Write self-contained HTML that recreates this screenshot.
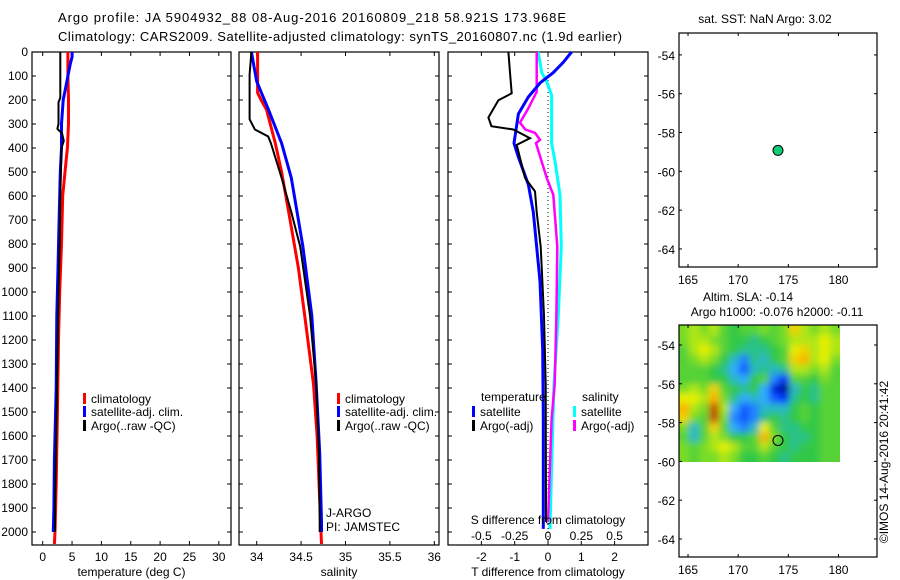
<!DOCTYPE html>
<html><head><meta charset="utf-8"><style>
html,body{margin:0;padding:0;background:#fff;}
svg{display:block;font-family:"Liberation Sans",sans-serif;}
text{font-size:12px;fill:#000;}
</style></head><body>
<svg id="fig" width="900" height="580" viewBox="0 0 900 580" xmlns="http://www.w3.org/2000/svg">
<defs>
<filter id="blur" x="0" y="0" width="1" height="1"><feGaussianBlur stdDeviation="3.5" edgeMode="duplicate"/></filter>
<clipPath id="slaClip"><rect x="679" y="325" width="161" height="137"/></clipPath>
</defs>
<text x="58" y="22" style="font-size:13px" textLength="508">Argo profile: JA 5904932_88 08-Aug-2016 20160809_218 58.921S 173.968E</text>
<text x="58" y="41" style="font-size:13px" textLength="564">Climatology: CARS2009. Satellite-adjusted climatology: synTS_20160807.nc (1.9d earlier)</text>
<g id="layer"></g>
</svg>
<script>
// ---------- profile data ----------
const tClimDepth = [0,100,200,300,400,500,600,800,1000,1200,1500,1800,2000,2050];
const tClimVal   = [4.3,4.3,4.4,4.4,4.2,3.8,3.4,3.2,2.9,2.7,2.5,2.3,2.1,2.0];
const tSatDepth  = [0,20,50,100,150,200,300,400,500,600,700,900,1100,1400,1700,1900,2000];
const tSatVal    = [5.0,5.0,4.7,4.3,3.9,3.5,3.2,3.2,3.0,2.9,2.8,2.6,2.4,2.3,2.0,1.9,1.8];
const tArgoDepth = [0,190,210,300,320,340,370,400,500,600,800,1000,1300,1600,1900,2000];
const tArgoVal   = [3.0,3.0,2.7,2.7,2.5,3.3,3.6,3.2,3.1,3.0,2.9,2.7,2.5,2.3,2.1,2.1];

const sClimDepth = [0,170,200,240,380,500,667,900,1098,1384,1600,1958,2050];
const sClimVal   = [34.01,34.01,34.05,34.11,34.21,34.28,34.36,34.47,34.54,34.64,34.68,34.72,34.73];
const sSatDepth  = [0,123,237,380,524,811,1098,1384,1671,1958,2000];
const sSatVal    = [33.94,34.0,34.13,34.28,34.39,34.52,34.62,34.67,34.71,34.73,34.73];
const sArgoDepth = [0,94,280,323,352,380,524,667,811,1098,1384,1671,1958,2000];
const sArgoVal   = [33.94,33.92,33.92,33.98,34.13,34.16,34.28,34.39,34.49,34.60,34.67,34.70,34.71,34.71];

const dTSatDepth  = [0,43,86,129,187,258,380,438,553,667,955,1241,1528,1987];
const dTSatVal    = [0.71,0.46,0.16,-0.24,-0.59,-0.89,-1.02,-0.89,-0.59,-0.44,-0.24,-0.16,-0.14,-0.14];
const dTArgoDepth = [0,86,172,201,273,309,323,359,387,524,581,667,811,1098,1384,1958];
const dTArgoVal   = [-1.19,-1.14,-1.09,-1.49,-1.79,-1.70,-1.04,-0.54,-0.94,-0.69,-0.39,-0.34,-0.22,-0.12,-0.07,-0.06];
const dSSatDepth  = [0,86,123,180,380,452,595,811,1098,1384,1671,1987];
const dSSatVal    = [-0.073,-0.047,-0.01,0.027,0.027,0.052,0.09,0.10,0.077,0.045,0.03,0.015];
const dSArgoDepth = [0,166,237,294,323,337,366,380,524,595,811,1098,1384,1528,1958];
const dSArgoVal   = [-0.085,-0.085,-0.15,-0.21,-0.17,-0.097,-0.06,-0.09,-0.01,0.04,0.07,0.063,0.05,0.027,0.0];

const depthTicks = [0,100,200,300,400,500,600,700,800,900,1000,1100,1200,1300,1400,1500,1600,1700,1800,1900,2000];
const tempTicks = [0,5,10,15,20,25,30];
const salTicks = [34,34.5,35,35.5,36];
const dTTicks = [-2,-1,0,1,2];
const dSTicks = [-0.5,-0.25,0,0.25,0.5];
const dSTickLabels = ['-0.5','-0.25','0','0.25','0.5'];

// ---------- map data ----------
const latTicks = [-54,-56,-58,-60,-62,-64];
const lonTicks = [165,170,175,180];
const argoLon = 173.968, argoLat = -58.921;
const slaLon0 = 164.1, slaLat0 = -53.0, slaDLon = 1.0, slaDLat = 0.5;
const slaGrid = [
[2,3,2,3,1,0,1,1,2,1,2,5,3,2,3,2],
[2,3,3,2,1,0,0,-1,0,1,2,3,3,3,4,3],
[1,3,4,3,1,0,-1,-1,-1,0,1,4,5,3,4,3],
[1,2,3,2,0,-2,-4,-1,-2,0,1,5,6,3,4,2],
[1,1,1,0,-1,-3,-5,-2,-1,-2,-1,3,3,2,3,1],
[1,1,1,0,0,-2,-3,0,1,-4,-6,1,1,0,2,1],
[2,3,2,5,1,0,-1,0,-3,-7,-10,-2,0,-1,1,1],
[4,4,3,6,2,-1,-3,-2,-3,-5,-6,-1,0,-1,1,1],
[6,3,2,9,3,-3,-5,-4,-2,-2,-2,0,1,0,1,1],
[5,2,1,9,2,-4,-5,-4,-1,0,-1,0,1,0,1,1],
[2,-2,1,5,1,-3,-4,-2,4,1,-1,-1,0,0,1,1],
[1,-2,1,3,2,0,0,1,6,2,0,-1,-1,0,1,1],
[2,1,2,3,4,3,1,1,3,1,0,-1,0,0,1,1],
[2,1,2,2,3,2,0,0,1,0,-1,0,0,0,1,1]
];

const NS='http://www.w3.org/2000/svg';
const L=document.getElementById('layer');
function mk(tag,attrs,parent){const e=document.createElementNS(NS,tag);for(const k in attrs)e.setAttribute(k,attrs[k]);(parent||L).appendChild(e);return e;}
function txt(x,y,s,anchor,parent){const e=mk('text',{x:x,y:y,'text-anchor':anchor||'start'},parent);e.textContent=s;return e;}

// depth axis
const plotTop=52, pxPerM=0.24;
const yD=d=>plotTop+d*pxPerM;
const panelBottom=545;

function panel(name,x0,x1,xf,ticks,labels,xlabel,leftLabels){
  const g=mk('g',{});
  
  
  const r=mk('rect',{x:x0,y:plotTop,width:x1-x0,height:panelBottom-plotTop,fill:'none',stroke:'#000','stroke-width':1.2},g);
  
  
  depthTicks.forEach(d=>{
    mk('line',{x1:x0,x2:x0+4,y1:yD(d),y2:yD(d),stroke:'#000'},g);
    mk('line',{x1:x1,x2:x1-4,y1:yD(d),y2:yD(d),stroke:'#000'},g);
    if(leftLabels){const t=txt(x0-4,yD(d)+4,String(d),'end',g);
      
      }
  });
  ticks.forEach((v,i)=>{
    const x=xf(v);
    mk('line',{x1:x,x2:x,y1:panelBottom,y2:panelBottom-4,stroke:'#000'},g);
    mk('line',{x1:x,x2:x,y1:plotTop,y2:plotTop+4,stroke:'#000'},g);
    const t=txt(x,561,labels[i],'middle',g);
    
    
  });
  const xl=txt((x0+x1)/2,576,xlabel,'middle',g);
  
  
  return g;
}
function series(name,depths,vals,xf,color,w,parent){
  const pts=depths.map((d,i)=>xf(vals[i]).toFixed(1)+','+yD(d).toFixed(1)).join(' ');
  const p=mk('polyline',{points:pts,fill:'none',stroke:color,'stroke-width':w,'stroke-linejoin':'miter'},parent);
  
  
}
function legendEntry(x,y,color,label,parent){
  const g=mk('g',{},parent);
  
  
  mk('rect',{x:x,y:y-10,width:3,height:11,fill:color},g);
  txt(x+8,y,label,'start',g);
}

// panel 1 temperature
const xT=v=>42.7+v*5.87;
const p1=panel('temperature-panel',32,231,xT,tempTicks,tempTicks.map(String),'temperature (deg C)',true);
series('temp-climatology-line',tClimDepth,tClimVal,xT,'#ff0000',3,p1);
series('temp-satellite-line',tSatDepth,tSatVal,xT,'#0000ff',3,p1);
series('temp-argo-line',tArgoDepth,tArgoVal,xT,'#000',2,p1);
legendEntry(83,403,'#ff0000','climatology',p1);
legendEntry(83,416,'#0000ff','satellite-adj. clim.',p1);
legendEntry(83,430,'#000','Argo(..raw -QC)',p1);

// panel 2 salinity
const xS=v=>256.7+(v-34)*88.8;
const p2=panel('salinity-panel',239,439,xS,salTicks,salTicks.map(String),'salinity',false);
series('sal-climatology-line',sClimDepth,sClimVal,xS,'#ff0000',3,p2);
series('sal-satellite-line',sSatDepth,sSatVal,xS,'#0000ff',3,p2);
series('sal-argo-line',sArgoDepth,sArgoVal,xS,'#000',2,p2);
legendEntry(337,403,'#ff0000','climatology',p2);
legendEntry(337,416,'#0000ff','satellite-adj. clim.',p2);
legendEntry(337,430,'#000','Argo(..raw -QC)',p2);
const j1=txt(326,517,'J-ARGO','start',p2);


const j2=txt(326,531,'PI: JAMSTEC','start',p2);



// panel 3 differences
const xDT=v=>548+v*33.3;
const xDS=v=>548+v*133.3;
const p3=panel('difference-panel',448,648,xDT,dTTicks,dTTicks.map(String),'T difference from climatology',false);
mk('line',{x1:548,x2:548,y1:plotTop,y2:panelBottom,stroke:'#000','stroke-dasharray':'1,3'},p3);
series('dS-satellite-line',dSSatDepth,dSSatVal,xDS,'#00ffff',3,p3);
series('dS-argo-line',dSArgoDepth,dSArgoVal,xDS,'#ff00ff',2.5,p3);
series('dT-satellite-line',dTSatDepth,dTSatVal,xDT,'#0000ff',3,p3);
series('dT-argo-line',dTArgoDepth,dTArgoVal,xDT,'#000',2,p3);
txt(481,401,'temperature','start',p3);
txt(582,401,'salinity','start',p3);
legendEntry(472,416,'#0000ff','satellite',p3);
legendEntry(472,430,'#000','Argo(-adj)',p3);
legendEntry(573,416,'#00ffff','satellite',p3);
legendEntry(573,430,'#ff00ff','Argo(-adj)',p3);
const st=txt(548,524,'S difference from climatology','middle',p3);


dSTicks.forEach((v,i)=>{const t=txt(xDS(v),540,dSTickLabels[i],'middle',p3);
  
  });

// ---------- maps ----------
const mapX0=679,mapX1=877,lonL=164.1;
const xLon=lon=>mapX0+(lon-lonL)*10.03;
function mapPanel(name,yTop,yBot,latTop){
  const yLat=lat=>yTop+(latTop-lat)*19.4;
  const g=mk('g',{});
  
  
  return {g,yLat,draw(){
    const r=mk('rect',{x:mapX0,y:yTop,width:mapX1-mapX0,height:yBot-yTop,fill:'none',stroke:'#000','stroke-width':1.2},g);
    
    
    latTicks.forEach(l=>{const y=yLat(l);
      mk('line',{x1:mapX0,x2:mapX0+3,y1:y,y2:y,stroke:'#000'},g);
      mk('line',{x1:mapX1,x2:mapX1-3,y1:y,y2:y,stroke:'#000'},g);
      const t=txt(675,y+5,String(l),'end',g);
      
      });
    lonTicks.forEach(l=>{const x=xLon(l);
      mk('line',{x1:x,x2:x,y1:yTop,y2:yTop+3,stroke:'#000'},g);
      mk('line',{x1:x,x2:x,y1:yBot,y2:yBot-3,stroke:'#000'},g);
      const t=txt(x,yBot+17,String(l),'middle',g);
      
      });
  }};
}
// SST map
const m1=mapPanel('sst-map',33,267,-52.87);
m1.draw();
const dot=mk('circle',{cx:xLon(argoLon),cy:m1.yLat(argoLat),r:5,fill:'#11cc77',stroke:'#000','stroke-width':1},m1.g);


const t1=txt(765,23,'sat. SST: NaN Argo: 3.02','middle',m1.g);



// SLA map
const m2=mapPanel('sla-map',325,557,-52.97);
const stops=[[-10,[0,0,140]],[-6,[0,50,255]],[-3,[50,170,255]],[-1.5,[40,190,170]],[0,[50,200,70]],[2,[120,220,40]],[4,[230,240,0]],[6,[250,180,0]],[8,[220,110,0]],[10,[170,40,0]]];
function cmap(v){for(let i=0;i<stops.length-1;i++){const a=stops[i],b=stops[i+1];if(v<=b[0]){const t=Math.max(0,(v-a[0])/(b[0]-a[0]));return 'rgb('+a[1].map((c,k)=>Math.round(c+(b[1][k]-c)*t)).join(',')+')';}}return 'rgb(170,40,0)';}
const clipG=mk('g',{'clip-path':'url(#slaClip)'},m2.g);
const heat=mk('g',{filter:'url(#blur)'},clipG);


mk('rect',{x:670,y:315,width:180,height:160,fill:'rgb(50,200,70)'},heat);
slaGrid.forEach((row,j)=>row.forEach((v,i)=>{
  let x=xLon(slaLon0+i*slaDLon), x2=xLon(slaLon0+(i+1)*slaDLon);
  let y=m2.yLat(slaLat0-j*slaDLat), y2=m2.yLat(slaLat0-(j+1)*slaDLat);
  if(i===0) x-=8; if(i===row.length-1) x2+=8;
  if(j===0) y-=8; if(j===slaGrid.length-1) y2+=8;
  const c=mk('rect',{x:x.toFixed(1),y:y.toFixed(1),width:(x2-x+0.5).toFixed(1),height:(y2-y+0.5).toFixed(1),fill:cmap(v)},heat);
  
  
}));
m2.draw();
const ring=mk('circle',{cx:xLon(argoLon),cy:m2.yLat(argoLat),r:5,fill:'none',stroke:'#000','stroke-width':1},m2.g);


const t2=txt(748,301,'Altim. SLA: -0.14','middle',m2.g);


const t3=txt(777,316,'Argo h1000: -0.076 h2000: -0.11','middle',m2.g);


const cr=txt(0,0,'©IMOS 14-Aug-2016 20:41:42','middle');
cr.setAttribute('transform','translate(888,462) rotate(-90)');


</script>
</body></html>
